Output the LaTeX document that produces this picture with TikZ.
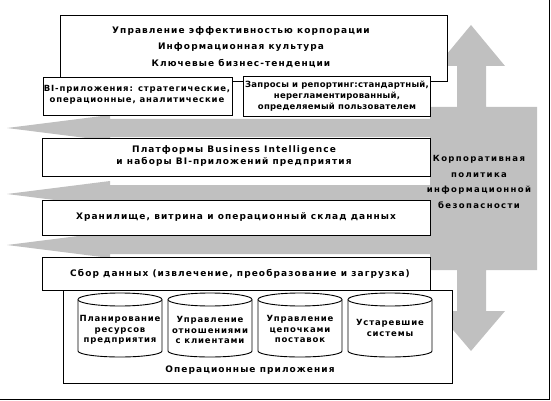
\documentclass[tikz,border=0pt]{standalone}
\usepackage{fontspec}
\setmainfont{DejaVu Sans}
\newfontfamily\lab[LetterSpace=10]{DejaVu Sans}
\newfontfamily\labm[LetterSpace=12]{DejaVu Sans}
\newfontfamily\labs[LetterSpace=16]{DejaVu Sans}
\newfontfamily\labt[LetterSpace=3]{DejaVu Sans}
\definecolor{arrowgray}{RGB}{192,192,192}
\begin{document}
\begin{tikzpicture}[x=1pt,y=-1pt,
  box/.style={draw=black, fill=white, line width=0.9pt, inner sep=0pt, outer sep=0pt, anchor=north west},
  lbl/.style={font=\lab\bfseries\fontsize{8.5}{10.5}\selectfont, align=center, inner sep=0pt},
  mainlbl/.style={font=\labm\bfseries\fontsize{9}{12}\selectfont, align=center, inner sep=0pt},
  widelbl/.style={font=\labm\bfseries\fontsize{9}{16.5}\selectfont, align=center, inner sep=0pt},
  sidelbl/.style={font=\labs\bfseries\fontsize{8.5}{15.5}\selectfont, align=center, inner sep=0pt},
  grayshape/.style={fill=arrowgray, draw=none},
  cyl/.style={draw=black, fill=white, line width=0.9pt}
]
\useasboundingbox (0,0) rectangle (551,401);

% horizontal arrows (pointing left)
\foreach \c in {128,194,245}{
  \fill[grayshape] (7,\c) -- (110,\c-13) -- (110,\c-9) -- (470,\c-9) -- (470,\c+9) -- (110,\c+9) -- (110,\c+13) -- cycle;
}
% big vertical double arrow
\fill[grayshape] (471,25) -- (505,66) -- (486,66) -- (486,107) -- (537,107) -- (537,270) -- (486,270) -- (486,311) -- (505,311) -- (471,351) -- (437,311) -- (457,311) -- (457,270) -- (430,270) -- (430,107) -- (457,107) -- (457,66) -- (437,66) -- cycle;

% boxes
\node[box, minimum width=387pt, minimum height=66pt] (top) at (60,15) {};
\node[widelbl] (toptxt) at (241,47) {Управление эффективностью корпорации\\Информационная культура\\Ключевые бизнес-тенденции};

\node[box, minimum width=189pt, minimum height=38pt] (biapps) at (43,77) {};
\node[lbl] (biappstxt) at (137,95) {BI-приложения: стратегические,\\операционные, аналитические};

\node[box, minimum width=187pt, minimum height=40pt] (query) at (243,76) {};
\node[lbl, font=\labt\bfseries\fontsize{8.5}{11}\selectfont] (querytxt) at (337,96) {Запросы и репортинг:стандартный,\\нерегламентированный,\hspace*{14pt}\\определяемый пользователем};

\node[box, minimum width=388pt, minimum height=38pt] (platform) at (42,138) {};
\node[mainlbl] (platformtxt) at (234,156) {Платформы Business Intelligence\\и наборы BI-приложений предприятия};

\node[box, minimum width=388pt, minimum height=35pt] (storage) at (42,200) {};
\node[mainlbl] (storagetxt) at (236,217) {Хранилище, витрина и операционный склад данных};

\node[box, minimum width=389pt, minimum height=93pt] (ops) at (63,290) {};
\node[mainlbl] (opstxt) at (250,370) {Операционные приложения};

\node[box, minimum width=388pt, minimum height=33pt] (collect) at (42,257) {};
\node[mainlbl] (collecttxt) at (240,274) {Сбор данных (извлечение, преобразование и загрузка)};

% cylinders
\foreach \L/\n in {78/1,168/2,258/3,348/4}{
  \pgfmathsetmacro{\R}{\L+84}
  \draw[cyl] (\L,299.5) -- (\L,351) arc[start angle=180, end angle=0, x radius=42, y radius=6] -- (\R,299.5) arc[start angle=0, end angle=-180, x radius=42, y radius=6.5] -- cycle;
  \draw[cyl] (\L,299.5) arc[start angle=180, end angle=0, x radius=42, y radius=6.5];
}
\node[lbl] (c1) at (120,330) {Планирование\\ресурсов\\предприятия};
\node[lbl] (c2) at (210,330) {Управление\\отношениями\\с клиентами};
\node[lbl] (c3) at (300,329) {Управление\\цепочками\\поставок};
\node[lbl] (c4) at (390,328) {Устаревшие\\системы};

% side label
\node[sidelbl] (policy) at (479,182) {Корпоративная\\политика\\информационной\\безопасности};

% outer frame (right and bottom)
\draw[line width=1pt] (549.5,0) -- (549.5,399.5) -- (0,399.5);
\end{tikzpicture}
\end{document}
